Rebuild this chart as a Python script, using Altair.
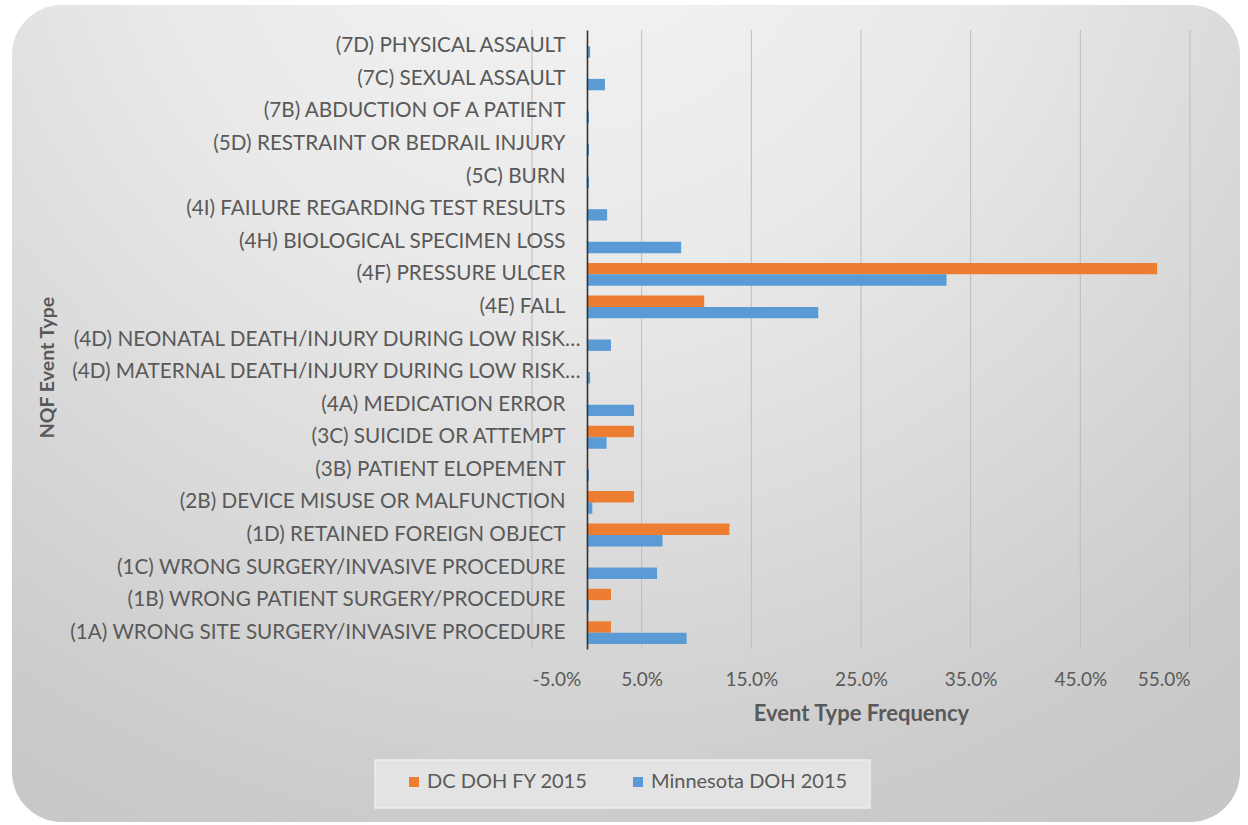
import altair as alt
import pandas as pd

# NQF serious reportable event types, top row first
event_types = [
    "(7D) PHYSICAL ASSAULT",
    "(7C) SEXUAL ASSAULT",
    "(7B) ABDUCTION OF A PATIENT\u00a0",
    "(5D) RESTRAINT OR BEDRAIL INJURY",
    "(5C) BURN",
    "(4I) FAILURE REGARDING TEST RESULTS",
    "(4H) BIOLOGICAL SPECIMEN LOSS",
    "(4F) PRESSURE ULCER",
    "(4E) FALL",
    "(4D) NEONATAL DEATH/INJURY DURING LOW RISK\u2026",
    "(4D) MATERNAL DEATH/INJURY DURING LOW RISK\u2026",
    "(4A) MEDICATION ERROR",
    "(3C) SUICIDE OR ATTEMPT",
    "(3B) PATIENT ELOPEMENT",
    "(2B) DEVICE MISUSE OR MALFUNCTION",
    "(1D) RETAINED FOREIGN OBJECT",
    "(1C) WRONG SURGERY/INVASIVE PROCEDURE",
    "(1B) WRONG PATIENT SURGERY/PROCEDURE",
    "(1A) WRONG SITE SURGERY/INVASIVE PROCEDURE",
]

# Share of reported events per type
dc_doh_fy2015 = [0, 0, 0, 0, 0, 0, 0, 0.520, 0.107, 0, 0, 0, 0.043, 0, 0.043, 0.130, 0, 0.022, 0.022]
mn_doh_2015 = [0.003, 0.0165, 0.002, 0.002, 0.002, 0.0185, 0.086, 0.328, 0.211, 0.022, 0.003,
               0.043, 0.018, 0.002, 0.005, 0.069, 0.064, 0.002, 0.091]

series_names = ["DC DOH FY 2015", "Minnesota DOH 2015"]
series_colors = ["#ED7D31", "#5B9BD5"]
x_ticks = [-0.05, 0.05, 0.15, 0.25, 0.35, 0.45, 0.55]

rows = []
for name, values in zip(series_names, [dc_doh_fy2015, mn_doh_2015]):
    for ev, v in zip(event_types, values):
        rows.append({"event": ev, "series": name, "share": v})
bars_df = pd.DataFrame(rows)
ticks_df = pd.DataFrame({"tick": x_ticks})
one_row = pd.DataFrame({"k": [0]})

FONT = "Lato"
TEXT = "#595959"
x_scale = alt.Scale(domain=[-0.05, 0.55], nice=False, zero=False)

# Rounded panel behind the whole chart, lighter toward the top
panel = alt.Chart(one_row).mark_rect(
    cornerRadius=50,
    fill={
        "gradient": "radial",
        "x1": 0.45, "y1": 0.05, "r1": 0,
        "x2": 0.45, "y2": 0.05, "r2": 1.0,
        "stops": [
            {"offset": 0, "color": "#f5f5f5"},
            {"offset": 0.35, "color": "#e9e9e9"},
            {"offset": 0.8, "color": "#cbcbcb"},
            {"offset": 1, "color": "#c4c4c4"},
        ],
    },
).encode(
    x=alt.value(-520), x2=alt.value(708), y=alt.value(-25), y2=alt.value(792)
)

# Box framing the legend
legend_box = alt.Chart(one_row).mark_rect(
    fill="#e3e3e3", stroke="#ededed", strokeWidth=1.5
).encode(
    x=alt.value(-157), x2=alt.value(338), y=alt.value(730), y2=alt.value(778)
)

grid = alt.Chart(ticks_df).mark_rule(color="#bcbcbc", strokeWidth=1).encode(
    x=alt.X("tick:Q", scale=x_scale)
)

bars = alt.Chart(bars_df).mark_bar().encode(
    x=alt.X(
        "share:Q",
        scale=x_scale,
        title="Event Type Frequency",
        axis=alt.Axis(
            values=x_ticks, format=".1%", grid=False, domain=False, ticks=False,
            labelExpr="replace(datum.label, '\u2212', '-')",
            labelPadding=21, labelFontSize=19, labelColor=TEXT,
            titleFontSize=22, titleFontWeight="bold", titleColor=TEXT, titlePadding=14,
            zindex=1,
        ),
    ),
    y=alt.Y(
        "event:N",
        sort=event_types,
        scale=alt.Scale(paddingInner=0.3, paddingOuter=0.15),
        title="NQF Event Type",
        axis=alt.Axis(
            offset=-55, domainColor="#333333", domainWidth=1.6, ticks=False,
            # shortened (ellipsis) labels sit a little closer to the axis line
            labelPadding={
                "condition": {"test": "indexof(datum.value, '\u2026') >= 0", "value": 7},
                "value": 22,
            },
            labelLimit=700, labelFontSize=20.7, labelColor=TEXT,
            titleFontSize=19.5, titleFontWeight="bold", titleColor=TEXT,
            titleX=-530, titleY=337, zindex=1,
        ),
    ),
    yOffset=alt.YOffset("series:N", sort=series_names),
    color=alt.Color(
        "series:N",
        scale=alt.Scale(domain=series_names, range=series_colors),
        legend=alt.Legend(
            title=None, orient="none", direction="horizontal",
            legendX=-128, legendY=742,
            symbolType="square", symbolSize=100, symbolStrokeWidth=0, symbolOffset=0,
            labelFontSize=20, labelColor=TEXT, labelLimit=400, labelOffset=3,
            columnPadding=40, padding=0,
        ),
    ),
)

chart = alt.layer(panel, legend_box, grid, bars).properties(
    width=658,
    height=619,
    padding={"left": 532, "top": 30, "right": 58, "bottom": 176},
    autosize=alt.AutoSizeParams(type="none"),
    background="white",
).configure(font=FONT).configure_view(stroke=None)

chart.save("out.html", embed_options={"renderer": "svg", "actions": False})
